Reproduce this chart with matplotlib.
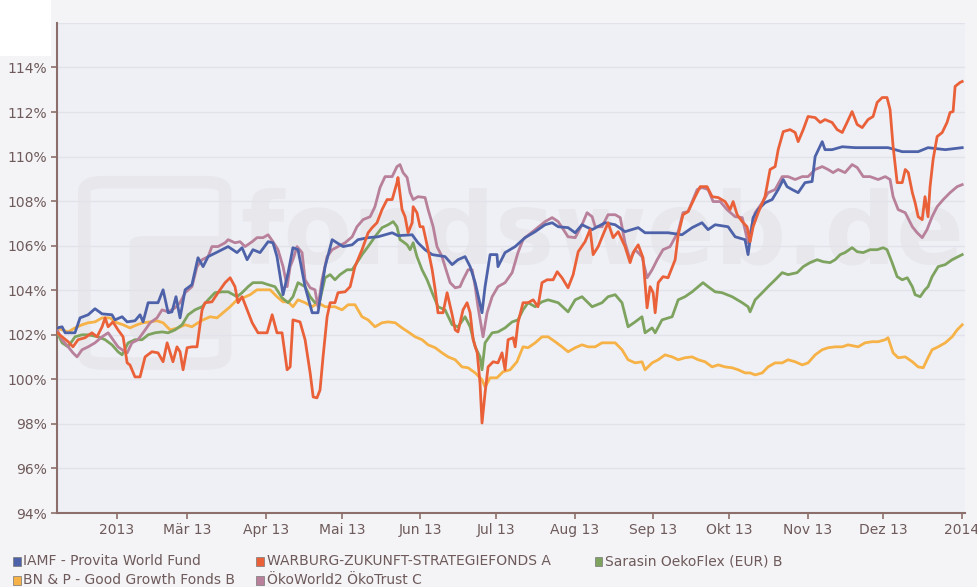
import matplotlib
matplotlib.use('Agg')
import matplotlib.pyplot as plt
import matplotlib.patches as mpatches
import pandas as pd

# (day since 2013-01-01, value in %)
iamf = [(7.6, 102.31), (9.5, 102.36), (10.7, 102.09), (14.6, 102.09), (16.6, 102.76), (19.8, 102.90),
        (22.5, 103.17), (25.3, 102.94), (29.2, 102.90), (30.4, 102.67), (33.2, 102.81), (35.2, 102.58),
        (38.3, 102.63), (40.3, 102.90), (41.5, 102.58), (43.5, 103.44), (47.4, 103.44), (49.4, 104.02),
        (51.4, 102.99), (52.9, 103.03), (54.5, 103.71), (56.1, 102.76), (58.1, 104.02), (60.8, 104.25),
        (63.2, 105.46), (65.2, 105.06), (67.2, 105.51), (71.1, 105.73), (75.1, 105.96), (78.6, 105.69),
        (80.6, 105.91), (82.6, 105.37), (84.9, 105.82), (87.7, 105.69), (90.9, 106.18), (92.8, 106.13),
        (94.4, 105.51), (96.8, 103.80), (98.8, 104.79), (100.7, 105.91), (102.7, 105.82), (105.5, 104.16),
        (108.3, 102.99), (110.6, 102.99), (113.4, 105.06), (116.2, 106.27), (118.1, 106.13), (120.5, 105.96),
        (124.1, 106.04), (126.4, 106.27), (130.4, 106.36), (134.3, 106.40), (139.9, 106.58), (142.2, 106.45),
        (147.8, 106.49), (150.1, 106.13), (152.9, 105.82), (155.7, 105.60), (160.8, 105.51), (163.6, 105.15),
        (165.9, 105.37), (168.7, 105.51), (170.7, 105.06), (172.7, 104.34), (175.4, 102.99), (176.6, 104.16),
        (178.6, 105.60), (181.3, 105.60), (181.7, 105.06), (184.5, 105.69), (188.5, 105.96), (192.4, 106.36),
        (196.4, 106.63), (200.3, 106.94), (203.1, 107.03), (205.5, 106.85), (209.4, 106.81), (212.2, 106.58),
        (214.9, 106.94), (218.9, 106.72), (224.0, 107.03), (228.0, 106.94), (231.9, 106.63), (237.1, 106.81),
        (239.8, 106.58), (248.9, 106.58), (254.4, 106.49), (258.4, 106.81), (262.3, 107.03), (264.7, 106.72),
        (267.5, 106.94), (272.6, 106.85), (275.4, 106.40), (279.3, 106.27), (280.5, 105.60), (282.5, 107.26),
        (284.5, 107.62), (287.2, 107.93), (290.0, 108.07), (292.4, 108.52), (294.4, 108.97), (295.9, 108.65),
        (297.9, 108.52), (300.3, 108.38), (303.0, 108.83), (305.8, 108.88), (307.0, 110.0), (309.8, 110.67),
        (310.9, 110.31), (313.7, 110.31), (317.7, 110.44), (322.8, 110.40), (329.5, 110.40), (335.8, 110.40),
        (341.4, 110.22), (347.7, 110.22), (351.6, 110.40), (358.4, 110.31), (365.1, 110.40)]

warburg = [(7.6, 102.09), (9.5, 101.91), (11.9, 101.69), (13.8, 101.46), (15.8, 101.78), (18.6, 101.87),
           (21.3, 102.09), (23.3, 101.91), (25.3, 102.36), (26.5, 102.76), (27.7, 102.36), (29.6, 102.58),
           (31.6, 102.22), (33.6, 101.91), (35.2, 100.74), (36.3, 100.65), (38.3, 100.11), (40.3, 100.11),
           (42.3, 101.01), (45.0, 101.24), (47.4, 101.19), (49.4, 100.79), (51.0, 101.64), (52.2, 101.19),
           (53.3, 100.79), (54.9, 101.46), (56.1, 101.24), (57.3, 100.43), (58.9, 101.42), (60.8, 101.46),
           (62.8, 101.46), (64.8, 103.12), (66.0, 103.44), (68.7, 103.48), (71.1, 103.89), (73.9, 104.34),
           (75.9, 104.56), (77.8, 104.16), (79.0, 103.44), (80.6, 103.71), (82.6, 103.12), (84.6, 102.54),
           (86.9, 102.09), (90.5, 102.09), (92.5, 102.90), (94.4, 102.09), (96.4, 102.09), (98.4, 100.43),
           (99.6, 100.56), (100.7, 102.67), (103.5, 102.58), (105.5, 101.78), (107.5, 100.29), (108.7, 99.21),
           (110.2, 99.17), (111.4, 99.52), (112.6, 101.01), (114.2, 102.81), (115.4, 103.44), (117.3, 103.44),
           (118.5, 103.89), (121.3, 103.93), (123.3, 104.16), (125.2, 105.06), (128.0, 105.82), (130.4, 106.58),
           (132.0, 106.81), (133.9, 107.03), (135.9, 107.62), (137.9, 108.07), (139.9, 108.07), (141.8, 108.83),
           (142.2, 109.06), (143.8, 107.62), (145.0, 107.30), (146.2, 106.58), (147.8, 107.03), (148.2, 107.75),
           (149.7, 107.48), (150.9, 106.85), (152.1, 106.85), (154.1, 105.82), (155.7, 104.92), (156.9, 104.02),
           (158.0, 102.99), (160.0, 102.99), (161.6, 103.89), (163.6, 102.90), (164.8, 102.22), (165.9, 102.13),
           (167.9, 103.12), (169.5, 103.44), (170.7, 102.99), (171.9, 101.78), (173.5, 101.19), (174.6, 99.84),
           (175.4, 98.04), (176.6, 99.39), (177.8, 100.56), (179.8, 100.79), (181.7, 100.74), (183.3, 101.19),
           (184.5, 100.43), (185.7, 101.78), (187.7, 101.87), (188.5, 101.46), (189.6, 102.54), (191.6, 103.44),
           (193.6, 103.44), (195.6, 103.57), (197.5, 103.26), (199.1, 104.34), (201.1, 104.47), (203.5, 104.47),
           (205.1, 104.83), (207.0, 104.56), (209.4, 104.11), (211.4, 104.70), (213.4, 105.73), (216.1, 106.18),
           (218.1, 106.72), (219.3, 105.60), (221.3, 105.96), (223.2, 106.49), (225.2, 107.03), (227.2, 106.36),
           (229.2, 106.63), (231.9, 105.96), (233.9, 105.24), (235.1, 105.69), (237.1, 106.04), (239.0, 105.46),
           (240.6, 103.21), (241.8, 104.16), (243.0, 103.89), (243.8, 102.99), (245.0, 104.34), (246.9, 104.61),
           (248.9, 104.56), (251.7, 105.37), (252.9, 106.49), (254.8, 107.39), (256.8, 107.53), (259.6, 108.20),
           (261.6, 108.65), (264.3, 108.65), (266.3, 108.20), (268.7, 108.16), (271.4, 107.98), (273.4, 107.62),
           (274.6, 107.98), (276.2, 107.39), (278.2, 107.08), (280.1, 106.85), (281.3, 106.18), (282.5, 106.85),
           (284.5, 107.48), (287.2, 108.20), (289.2, 109.42), (291.2, 109.55), (292.4, 110.31), (294.4, 111.12),
           (297.1, 111.21), (299.1, 111.08), (300.3, 110.67), (302.3, 111.21), (304.2, 111.80), (307.0, 111.75),
           (309.0, 111.53), (310.9, 111.66), (313.7, 111.53), (315.7, 111.21), (317.7, 111.08), (319.6, 111.53),
           (321.6, 112.02), (323.6, 111.44), (325.6, 111.30), (327.9, 111.66), (329.9, 111.80), (331.5, 112.43),
           (333.5, 112.65), (335.4, 112.65), (336.6, 112.11), (337.8, 110.45), (339.4, 108.83), (341.4, 108.83),
           (342.6, 109.42), (343.8, 109.28), (345.4, 108.38), (346.5, 107.93), (347.7, 107.30), (349.3, 107.17),
           (350.4, 108.20), (351.6, 107.30), (352.4, 108.65), (353.6, 109.87), (355.2, 110.90), (357.2, 111.08),
           (359.1, 111.53), (360.3, 111.98), (361.5, 112.02), (362.3, 113.15), (364.3, 113.33), (365.1, 113.37)]

sarasin = [(7.6, 102.09), (9.5, 101.64), (11.9, 101.46), (14.6, 101.91), (17.4, 102.0), (19.8, 102.0),
           (23.7, 101.91), (26.5, 101.78), (29.2, 101.55), (31.6, 101.24), (33.2, 101.10), (35.6, 101.64),
           (38.3, 101.78), (41.1, 101.78), (43.5, 102.0), (46.2, 102.09), (49.0, 102.13), (51.4, 102.09),
           (54.1, 102.22), (56.9, 102.45), (59.3, 102.90), (62.0, 103.12), (64.8, 103.26), (67.2, 103.57),
           (69.9, 103.89), (72.7, 103.93), (75.1, 103.93), (78.6, 103.71), (80.6, 103.89), (83.0, 104.16),
           (84.9, 104.34), (88.5, 104.34), (90.9, 104.25), (93.6, 104.16), (96.4, 103.66), (98.8, 103.44),
           (100.7, 103.71), (102.7, 104.34), (105.5, 104.16), (107.5, 103.71), (109.4, 103.44), (111.4, 103.57),
           (113.4, 104.56), (115.4, 104.70), (117.3, 104.47), (119.3, 104.70), (122.1, 104.92), (124.1, 104.92),
           (126.0, 105.24), (128.0, 105.60), (130.4, 105.96), (133.1, 106.40), (135.9, 106.81), (138.3, 106.94),
           (140.3, 107.08), (141.8, 106.85), (143.0, 106.27), (144.2, 106.18), (145.8, 106.04), (147.0, 105.82),
           (148.2, 106.13), (149.7, 105.51), (151.7, 104.92), (153.7, 104.47), (155.7, 103.89), (158.0, 103.26),
           (160.8, 103.12), (163.6, 102.45), (165.9, 102.36), (168.7, 102.81), (170.7, 102.36), (172.7, 101.46),
           (174.6, 101.01), (175.4, 100.43), (176.6, 101.64), (179.4, 102.09), (181.7, 102.13), (184.5, 102.31),
           (187.3, 102.58), (189.6, 102.67), (191.6, 103.12), (193.6, 103.44), (196.4, 103.26), (199.1, 103.48),
           (201.5, 103.57), (205.5, 103.44), (209.4, 103.03), (212.2, 103.57), (214.9, 103.71), (218.9, 103.26),
           (222.8, 103.44), (225.2, 103.71), (228.0, 103.80), (230.7, 103.44), (233.1, 102.36), (235.9, 102.58),
           (238.6, 102.81), (239.8, 102.09), (242.6, 102.31), (243.8, 102.09), (246.5, 102.67), (250.5, 102.81),
           (252.9, 103.57), (255.6, 103.71), (258.4, 103.93), (260.8, 104.16), (262.7, 104.34), (264.7, 104.16),
           (267.5, 103.93), (270.2, 103.89), (274.2, 103.71), (278.2, 103.44), (280.5, 103.26), (281.3, 103.03),
           (283.3, 103.57), (286.1, 103.89), (288.4, 104.16), (291.2, 104.47), (294.0, 104.79), (296.3, 104.70),
           (299.9, 104.79), (302.3, 105.06), (305.0, 105.24), (307.8, 105.37), (310.2, 105.28), (312.9, 105.24),
           (314.9, 105.37), (316.9, 105.60), (318.8, 105.69), (321.6, 105.91), (323.6, 105.73), (326.0, 105.69),
           (328.7, 105.82), (331.5, 105.82), (333.9, 105.91), (335.4, 105.82), (337.4, 105.24), (339.4, 104.61),
           (341.4, 104.47), (343.4, 104.56), (345.4, 104.16), (346.5, 103.80), (348.5, 103.71), (350.4, 104.02),
           (351.6, 104.16), (353.2, 104.61), (355.6, 105.06), (358.4, 105.15), (361.1, 105.37), (365.1, 105.60)]

bnp = [(7.6, 102.31), (9.5, 102.22), (11.9, 102.13), (14.6, 102.31), (17.4, 102.45), (19.8, 102.54),
       (22.5, 102.58), (25.3, 102.76), (28.4, 102.76), (31.2, 102.54), (33.6, 102.45), (36.3, 102.31),
       (39.1, 102.45), (41.5, 102.54), (44.3, 102.58), (47.0, 102.63), (49.4, 102.54), (52.2, 102.22),
       (55.3, 102.31), (58.1, 102.45), (60.8, 102.36), (63.2, 102.54), (65.2, 102.67), (68.0, 102.81),
       (70.7, 102.76), (73.1, 102.99), (75.9, 103.26), (78.6, 103.57), (81.0, 103.66), (83.8, 103.80),
       (86.5, 104.02), (88.9, 104.02), (91.7, 104.02), (94.4, 103.71), (96.8, 103.48), (98.8, 103.48),
       (100.7, 103.26), (102.7, 103.57), (105.5, 103.44), (108.3, 103.26), (110.6, 103.44), (113.4, 103.26),
       (117.3, 103.26), (120.1, 103.12), (122.5, 103.35), (125.2, 103.35), (128.0, 102.81), (130.4, 102.67),
       (133.1, 102.36), (135.9, 102.54), (138.3, 102.58), (141.1, 102.54), (143.8, 102.31), (146.2, 102.13),
       (149.0, 101.91), (151.7, 101.78), (154.1, 101.55), (156.9, 101.42), (159.6, 101.19), (162.0, 101.01),
       (164.8, 100.88), (167.5, 100.56), (169.9, 100.52), (172.7, 100.29), (175.4, 99.98), (176.6, 99.66),
       (178.6, 100.07), (181.3, 100.07), (183.7, 100.34), (186.5, 100.43), (189.2, 100.79), (191.6, 101.46),
       (193.6, 101.42), (196.4, 101.64), (199.1, 101.91), (201.5, 101.91), (204.3, 101.69), (207.0, 101.46),
       (209.4, 101.24), (212.2, 101.42), (214.9, 101.55), (217.3, 101.46), (220.1, 101.46), (222.8, 101.64),
       (228.0, 101.64), (230.7, 101.33), (233.1, 100.88), (235.9, 100.74), (238.6, 100.79), (239.8, 100.43),
       (242.6, 100.74), (245.0, 100.88), (247.7, 101.10), (250.5, 101.01), (252.9, 100.88), (255.6, 100.97),
       (258.4, 101.01), (260.8, 100.88), (263.5, 100.79), (266.3, 100.56), (268.7, 100.65), (271.4, 100.56),
       (274.2, 100.52), (276.6, 100.43), (279.3, 100.29), (281.3, 100.29), (283.3, 100.20), (286.1, 100.29),
       (288.4, 100.56), (291.2, 100.74), (294.0, 100.74), (296.3, 100.88), (299.1, 100.79), (301.9, 100.65),
       (304.2, 100.74), (307.0, 101.10), (309.8, 101.33), (312.1, 101.42), (314.9, 101.46), (317.7, 101.46),
       (320.0, 101.55), (324.0, 101.46), (326.7, 101.64), (329.5, 101.69), (331.9, 101.69), (334.7, 101.78),
       (335.8, 101.87), (337.8, 101.19), (339.8, 100.97), (342.6, 101.01), (345.4, 100.79), (347.7, 100.56),
       (349.7, 100.52), (351.2, 100.88), (353.2, 101.33), (355.6, 101.46), (358.4, 101.64), (361.1, 101.91),
       (363.1, 102.22), (365.1, 102.45)]

oekoworld = [(7.6, 102.22), (9.5, 101.78), (11.9, 101.46), (13.8, 101.19), (15.4, 101.01), (17.4, 101.33),
             (19.8, 101.46), (22.5, 101.64), (25.3, 101.91), (27.7, 102.09), (29.6, 101.78), (31.6, 101.46),
             (33.2, 101.33), (35.2, 101.19), (37.1, 101.64), (39.5, 101.78), (41.5, 102.09), (44.3, 102.54),
             (47.0, 102.76), (49.0, 103.12), (51.4, 103.03), (54.1, 103.21), (56.1, 103.44), (58.1, 103.89),
             (60.8, 104.16), (62.8, 105.06), (64.8, 105.37), (67.2, 105.51), (68.7, 105.96), (71.1, 105.96),
             (73.9, 106.13), (75.1, 106.27), (77.8, 106.13), (79.8, 106.18), (81.8, 105.96), (84.6, 106.18),
             (86.5, 106.36), (88.9, 106.36), (90.9, 106.49), (92.8, 106.18), (94.8, 105.82), (96.8, 105.06),
             (98.4, 104.16), (99.6, 105.06), (100.7, 105.37), (102.3, 105.96), (104.3, 105.69), (105.5, 104.47),
             (107.5, 104.11), (109.4, 104.02), (110.6, 103.26), (112.2, 104.47), (114.2, 105.51), (116.2, 105.82),
             (118.5, 105.96), (121.3, 106.13), (124.1, 106.40), (126.0, 106.85), (128.4, 107.17), (131.2, 107.30),
             (133.1, 107.75), (135.1, 108.61), (137.1, 109.10), (139.9, 109.10), (141.8, 109.55), (143.0, 109.64),
             (144.2, 109.28), (145.8, 109.06), (147.0, 108.38), (148.2, 108.07), (150.1, 108.20), (152.9, 108.16),
             (154.1, 107.62), (156.1, 106.85), (157.6, 105.96), (159.6, 105.51), (160.8, 105.06), (162.8, 104.34),
             (164.8, 104.11), (166.7, 104.16), (167.9, 104.47), (169.9, 104.92), (171.5, 104.92), (172.7, 104.16),
             (173.8, 103.26), (175.8, 101.91), (177.4, 102.99), (179.4, 103.71), (181.7, 104.16), (184.5, 104.34),
             (187.3, 104.79), (189.6, 105.69), (191.6, 106.27), (192.4, 106.36), (196.4, 106.72), (200.3, 107.08),
             (203.1, 107.26), (205.5, 107.08), (209.4, 106.40), (212.2, 106.36), (214.9, 106.94), (216.9, 107.48),
             (218.9, 107.30), (220.1, 106.85), (222.8, 106.85), (225.2, 107.39), (228.0, 107.39), (230.0, 107.26),
             (231.9, 106.13), (233.9, 105.37), (235.9, 105.82), (238.6, 105.51), (240.6, 104.56), (242.6, 104.92),
             (244.6, 105.37), (246.9, 105.82), (249.7, 105.96), (252.9, 106.63), (254.8, 107.48), (256.8, 107.53),
             (260.4, 108.52), (262.3, 108.61), (264.7, 108.52), (266.7, 107.98), (269.5, 107.98), (272.2, 107.62),
             (275.4, 107.30), (278.2, 107.26), (280.5, 106.13), (282.5, 107.17), (283.3, 107.48), (286.1, 107.93),
             (288.4, 108.38), (291.2, 108.52), (294.0, 109.10), (296.3, 109.10), (299.1, 108.97), (301.9, 109.10),
             (304.2, 109.10), (307.0, 109.42), (309.8, 109.55), (312.1, 109.42), (314.1, 109.28), (316.1, 109.42),
             (318.8, 109.28), (321.6, 109.64), (323.6, 109.51), (326.0, 109.10), (328.7, 109.10), (331.9, 108.97),
             (334.7, 109.10), (336.6, 108.97), (337.8, 108.20), (339.8, 107.62), (342.6, 107.48), (345.4, 106.85),
             (347.3, 106.58), (349.3, 106.36), (351.2, 106.72), (353.2, 107.30), (355.2, 107.75), (357.6, 108.07),
             (360.3, 108.38), (363.1, 108.65), (365.1, 108.74)]

names = ['IAMF - Provita World Fund', 'WARBURG-ZUKUNFT-STRATEGIEFONDS A', 'Sarasin OekoFlex (EUR) B',
         'BN & P - Good Growth Fonds B', 'ÖkoWorld2 ÖkoTrust C']
colors = ['#4d62a9', '#ea6139', '#7ea35f', '#f6b247', '#b8809a']

month_ticks = ['2013-02-01', '2013-03-01', '2013-04-01', '2013-05-01', '2013-06-01', '2013-07-01',
               '2013-08-01', '2013-09-01', '2013-10-01', '2013-11-01', '2013-12-01', '2014-01-01']
month_labels = ['2013', 'Mär 13', 'Apr 13', 'Mai 13', 'Jun 13', 'Jul 13',
                'Aug 13', 'Sep 13', 'Okt 13', 'Nov 13', 'Dez 13', '2014']
y_ticks = [94, 96, 98, 100, 102, 104, 106, 108, 110, 112, 114]

base = pd.Timestamp('2013-01-01')


def to_xy(pairs):
    d, v = zip(*pairs)
    return base + pd.to_timedelta(list(d), unit='D'), list(v)


axis_col = '#8c6f6b'
text_col = '#6e5a5a'
mark_col = '#e7e7ec'

fig = plt.figure(figsize=(9.78, 5.87), dpi=100, facecolor='#f4f4f7')
# white corner left over from the scan
fig.patches.append(mpatches.Rectangle((0, 0.905), 0.052, 0.095, transform=fig.transFigure,
                                      fc='white', ec='none'))
ax = fig.add_axes([0.0583, 0.126, 0.9284, 0.835])
ax.set_facecolor('#eef0f6')

# watermark
ax.text(0.60, 0.565, 'fondsweb.de', transform=ax.transAxes, fontsize=72, fontweight='bold',
        color=mark_col, ha='center', va='center', zorder=0)
ax.add_patch(mpatches.FancyBboxPatch((0.035, 0.31), 0.145, 0.36, boxstyle='round,pad=0.005,rounding_size=0.02',
                                     transform=ax.transAxes, fill=False, lw=9, ec=mark_col, zorder=0))
ax.add_patch(mpatches.FancyBboxPatch((0.085, 0.36), 0.1, 0.2, boxstyle='round,pad=0.005,rounding_size=0.015',
                                     transform=ax.transAxes, fc=mark_col, ec='none', zorder=0))

for yv in y_ticks + [116]:
    ax.axhline(yv, color='#e2e2ea', lw=1, zorder=1)

series = [iamf, warburg, sarasin, bnp, oekoworld]
order = [3, 2, 4, 0, 1]
for i in order:
    x, y = to_xy(series[i])
    ax.plot(x, y, color=colors[i], lw=2.0, zorder=3, solid_joinstyle='round')

ax.set_ylim(94, 116)
ax.set_xlim(base + pd.Timedelta(days=7.5), base + pd.Timedelta(days=366.2))
ax.set_yticks(y_ticks)
ax.set_yticklabels([f'{v}%' for v in y_ticks])
ax.set_xticks(pd.to_datetime(month_ticks))
ax.set_xticklabels(month_labels)

for s in ['top', 'right']:
    ax.spines[s].set_visible(False)
for s in ['left', 'bottom']:
    ax.spines[s].set_color(axis_col)
    ax.spines[s].set_linewidth(1.5)
ax.tick_params(axis='both', colors=axis_col, labelcolor=text_col, labelsize=10, length=4, width=1.2)
ax.tick_params(axis='y', pad=3)
ax.tick_params(axis='x', pad=3)

# legend
leg_pos = [(0.013, 0.044), (0.262, 0.044), (0.608, 0.044), (0.013, 0.012), (0.262, 0.012)]
for i, (lx, ly) in enumerate(leg_pos):
    fig.patches.append(mpatches.Rectangle((lx, ly - 0.008), 0.008, 0.0145, transform=fig.transFigure,
                                          fc=colors[i], ec='#777777', lw=0.5))
    fig.text(lx + 0.011, ly, names[i], fontsize=10, color=text_col, va='center', ha='left')

fig.savefig('out.png', dpi=100, facecolor=fig.get_facecolor())
